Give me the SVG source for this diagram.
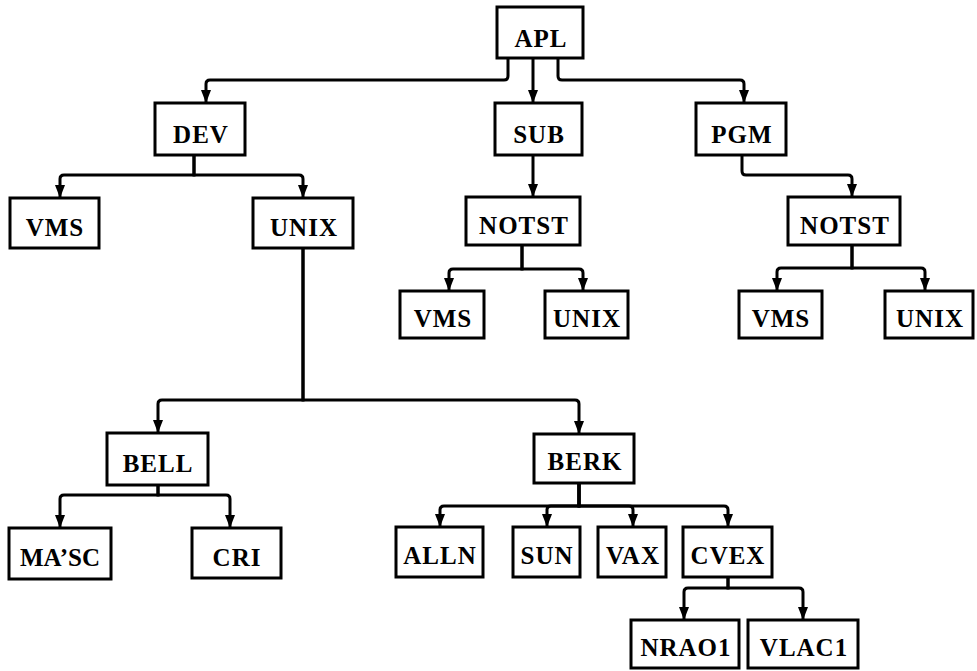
<svg xmlns="http://www.w3.org/2000/svg" width="977" height="671" viewBox="0 0 977 671">
<defs>
<style>
.box{fill:#fff;stroke:#000;stroke-width:3}
.lbl{font-family:"Liberation Serif","Times New Roman",serif;font-weight:bold;font-size:25px;letter-spacing:1px;text-anchor:middle;fill:#000}
.edge{fill:none;stroke:#000;stroke-width:3;marker-end:url(#arr)}
</style>
<marker id="arr" markerUnits="userSpaceOnUse" markerWidth="13" markerHeight="11" refX="13" refY="5.5" orient="auto">
<path d="M0,0.5 L13,5.5 L0,10.5 z" fill="#000"/>
</marker>
</defs>
<rect width="977" height="671" fill="#fff"/>
<g id="connectors">
<path class="edge" d="M508,58 V76 Q508,80 504,80 H210 Q206,80 206,84 V103"/>
<path class="edge" d="M533,58 V103"/>
<path class="edge" d="M558,58 V76 Q558,80 562,80 H740 Q744,80 744,84 V103"/>
<path class="edge" d="M194,155 V175 H64 Q60,175 60,179 V198"/>
<path class="edge" d="M194,155 V175 H299 Q303,175 303,179 V198"/>
<path class="edge" d="M533,155 V197"/>
<path class="edge" d="M742,155 V171 Q742,175 746,175 H848 Q852,175 852,179 V197"/>
<path class="edge" d="M522,245 V269 H453 Q449,269 449,273 V291"/>
<path class="edge" d="M522,245 V269 H579 Q583,269 583,273 V291"/>
<path class="edge" d="M852,245 V268 H781 Q777,268 777,272 V291"/>
<path class="edge" d="M852,245 V268 H921 Q925,268 925,272 V291"/>
<path class="edge" d="M303,248 V400 H162 Q158,400 158,404 V433"/>
<path class="edge" d="M303,248 V400 H575 Q579,400 579,404 V434"/>
<path class="edge" d="M158,485 V495 H64 Q60,495 60,499 V528"/>
<path class="edge" d="M158,485 V495 H226 Q230,495 230,499 V528"/>
<path class="edge" d="M579,483 V506 H444 Q440,506 440,510 V527"/>
<path class="edge" d="M579,483 V506 H551 Q547,506 547,510 V527"/>
<path class="edge" d="M579,483 V506 H629 Q633,506 633,510 V527"/>
<path class="edge" d="M579,483 V506 H724 Q728,506 728,510 V527"/>
<path class="edge" d="M728,577 V588 H688 Q684,588 684,592 V620"/>
<path class="edge" d="M728,577 V588 H799 Q803,588 803,592 V620"/>
</g>
<g id="n-apl"><rect class="box" x="497" y="7" width="86" height="51"/><text class="lbl" x="541" y="47">APL</text></g>
<g id="n-dev"><rect class="box" x="155" y="103" width="90" height="52"/><text class="lbl" x="201" y="143">DEV</text></g>
<g id="n-sub"><rect class="box" x="495" y="103" width="87" height="52"/><text class="lbl" x="539" y="143">SUB</text></g>
<g id="n-pgm"><rect class="box" x="696" y="103" width="90" height="52"/><text class="lbl" x="742" y="143">PGM</text></g>
<g id="n-dev-vms"><rect class="box" x="10" y="198" width="89" height="50"/><text class="lbl" x="55" y="236">VMS</text></g>
<g id="n-dev-unix"><rect class="box" x="253" y="198" width="100" height="50"/><text class="lbl" x="304" y="236">UNIX</text></g>
<g id="n-sub-notst"><rect class="box" x="466" y="197" width="114" height="48"/><text class="lbl" x="524" y="234">NOTST</text></g>
<g id="n-pgm-notst"><rect class="box" x="788" y="197" width="112" height="48"/><text class="lbl" x="845" y="234">NOTST</text></g>
<g id="n-sub-vms"><rect class="box" x="400" y="291" width="84" height="47"/><text class="lbl" x="443" y="327">VMS</text></g>
<g id="n-sub-unix"><rect class="box" x="545" y="291" width="83" height="47"/><text class="lbl" x="587" y="327">UNIX</text></g>
<g id="n-pgm-vms"><rect class="box" x="739" y="291" width="83" height="47"/><text class="lbl" x="781" y="327">VMS</text></g>
<g id="n-pgm-unix"><rect class="box" x="885" y="291" width="88" height="47"/><text class="lbl" x="930" y="327">UNIX</text></g>
<g id="n-bell"><rect class="box" x="107" y="433" width="101" height="52"/><text class="lbl" x="158" y="472">BELL</text></g>
<g id="n-berk"><rect class="box" x="534" y="434" width="100" height="49"/><text class="lbl" x="585" y="470">BERK</text></g>
<g id="n-masc"><rect class="box" x="9" y="528" width="102" height="51"/><text class="lbl" x="60" y="566" style="letter-spacing:0">MA’SC</text></g>
<g id="n-cri"><rect class="box" x="192" y="528" width="89" height="50"/><text class="lbl" x="237" y="566">CRI</text></g>
<g id="n-alln"><rect class="box" x="396" y="527" width="87" height="50"/><text class="lbl" x="440" y="564">ALLN</text></g>
<g id="n-sun"><rect class="box" x="513" y="527" width="67" height="50"/><text class="lbl" x="547" y="564">SUN</text></g>
<g id="n-vax"><rect class="box" x="598" y="527" width="68" height="50"/><text class="lbl" x="633" y="564">VAX</text></g>
<g id="n-cvex"><rect class="box" x="683" y="527" width="89" height="50"/><text class="lbl" x="728" y="564">CVEX</text></g>
<g id="n-nrao1"><rect class="box" x="631" y="620" width="108" height="48"/><text class="lbl" x="686" y="656">NRAO1</text></g>
<g id="n-vlac1"><rect class="box" x="748" y="620" width="110" height="48"/><text class="lbl" x="804" y="656">VLAC1</text></g>
</svg>
